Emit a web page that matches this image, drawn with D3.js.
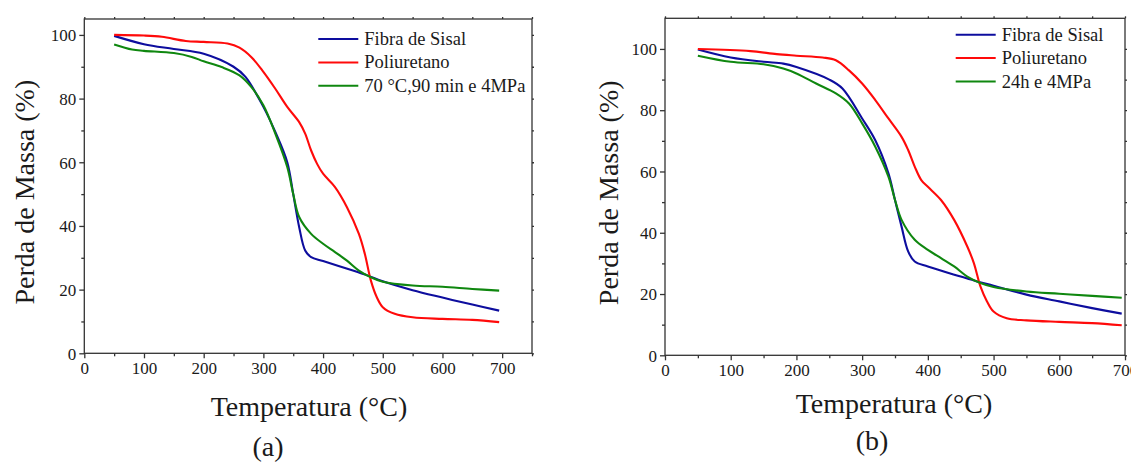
<!DOCTYPE html>
<html>
<head>
<meta charset="utf-8">
<script src="https://cdn.jsdelivr.net/npm/d3@7"></script>
<style>
	body { margin: 0; background: #fff; }
	svg text { font-family: "Liberation Serif", "Times New Roman", serif; fill: #1a1a1a; }
	.axis path, .axis line { stroke: #333; stroke-width: 1.3; }
</style>
</head>
<body>
<svg id="graphic" width="1131" height="462"></svg>
<script>
// ---- data ----
const seriesNames = ['Fibra de Sisal', 'Poliuretano'];
const legendA = seriesNames.concat(['70 °C,90 min e 4MPa']);
const legendB = seriesNames.concat(['24h e 4MPa']);
const colours = ['#0d0d9e', '#ff0a0a', '#0f870f'];

const xTicksA = [0, 100, 200, 300, 400, 500, 600, 700];
const xTicksB = [0, 100, 200, 300, 400, 500, 600, 700];
const yTicks = [0, 20, 40, 60, 80, 100];

// panel (a)
const tFibraA = [50, 100, 150, 200, 250, 270, 300, 320, 340, 350, 360, 370, 380, 400, 450, 475, 500, 550, 600, 650, 695];
const mFibraA = [99.7, 97.1, 95.6, 94.1, 90.0, 86.8, 77.4, 69.5, 60.0, 50.0, 39.6, 32.3, 30.2, 29.0, 26.0, 24.4, 22.6, 19.8, 17.5, 15.3, 13.4];
const tPuA = [50, 100, 130, 170, 200, 240, 260, 280, 300, 320, 340, 360, 370, 380, 390, 400, 420, 440, 460, 470, 480, 490, 500, 520, 550, 600, 650, 695];
const mPuA = [100, 99.8, 99.4, 98.1, 97.8, 97.3, 96.0, 93.0, 88.4, 83.1, 77.4, 72.6, 69.0, 63.7, 59.5, 56.4, 52.2, 45.9, 37.5, 31.2, 22.9, 17.6, 14.5, 12.4, 11.3, 10.8, 10.5, 9.8];
const tTratA = [50, 80, 100, 150, 180, 200, 230, 260, 280, 300, 320, 340, 350, 360, 380, 400, 420, 440, 460, 480, 500, 550, 600, 650, 695];
const mTratA = [97.0, 95.4, 95.0, 94.3, 93.1, 91.7, 89.9, 87.3, 83.6, 77.9, 69.0, 58.5, 50.0, 42.8, 37.5, 34.4, 31.8, 29.1, 26.0, 23.9, 22.5, 21.3, 20.9, 20.2, 19.7];

// panel (b)
const tFibraB = [50, 100, 150, 180, 200, 250, 270, 300, 320, 340, 350, 360, 370, 380, 400, 450, 475, 500, 550, 600, 650, 695];
const mFibraB = [99.8, 97.2, 95.8, 95.2, 94.1, 90.0, 87.1, 77.3, 70.2, 59.4, 50.7, 42.0, 33.9, 30.6, 29.0, 25.7, 24.1, 22.7, 19.8, 17.6, 15.4, 13.6];
const tPuB = [50, 130, 170, 200, 240, 260, 280, 300, 320, 340, 360, 370, 380, 390, 400, 420, 440, 460, 470, 480, 490, 500, 520, 550, 600, 650, 695];
const mPuB = [100, 99.3, 98.3, 97.8, 97.2, 96.3, 93.0, 88.7, 83.3, 77.3, 71.3, 67.0, 61.6, 57.2, 55.0, 50.7, 44.2, 35.5, 30.1, 22.5, 17.6, 14.3, 12.1, 11.4, 10.9, 10.5, 9.8];
const tTratB = [50, 100, 150, 180, 200, 230, 260, 280, 300, 320, 340, 350, 360, 380, 400, 420, 440, 460, 480, 500, 550, 600, 650, 695];
const mTratB = [97.8, 95.8, 95.0, 93.6, 92.0, 88.7, 85.5, 82.2, 75.7, 68.1, 58.3, 50.7, 44.2, 37.7, 34.4, 31.7, 29.0, 25.7, 23.6, 22.3, 20.8, 20.1, 19.4, 18.8];

const svg = d3.select('#graphic');
const serif = '"Liberation Serif", "Times New Roman", serif';

function drawPanel(p) {
	let x = d3.scaleLinear().domain(p.xDomain).range([p.left, p.right]);
	let y = d3.scaleLinear().domain(p.yDomain).range([p.bottom, p.top]);
	let g = svg.append('g');

	const xMinor = d3.range(50, p.xDomain[1] + 1, 100);
	const yMinor = d3.range(10, p.yDomain[1], 20);

	// minor ticks first
	g.append('g').attr('class', 'axis').attr('transform', `translate(0,${p.bottom})`)
		.call(d3.axisBottom(x).tickValues(xMinor).tickSize(3).tickFormat(''))
		.select('.domain').remove();
	g.append('g').attr('class', 'axis').attr('transform', `translate(${p.left},0)`)
		.call(d3.axisLeft(y).tickValues(yMinor).tickSize(3).tickFormat(''))
		.select('.domain').remove();
	g.append('g').attr('class', 'axis').attr('transform', `translate(0,${p.top})`)
		.call(d3.axisTop(x).tickValues(p.xTicks.concat(xMinor)).tickSize(2).tickFormat(''))
		.select('.domain').remove();
	g.append('g').attr('class', 'axis').attr('transform', `translate(${p.right},0)`)
		.call(d3.axisRight(y).tickValues(yTicks.concat(yMinor)).tickSize(2).tickFormat(''))
		.select('.domain').remove();

	// main axes
	let xa = g.append('g').attr('class', 'axis').attr('transform', `translate(0,${p.bottom})`)
		.call(d3.axisBottom(x).tickValues(p.xTicks).tickSize(5).tickPadding(4).tickSizeOuter(0))
		.attr('font-family', serif);
	xa.selectAll('text').style('font-size', '17px');
	xa.select('.domain').remove();
	let ya = g.append('g').attr('class', 'axis').attr('transform', `translate(${p.left},0)`)
		.call(d3.axisLeft(y).tickValues(yTicks).tickSize(5).tickPadding(3).tickSizeOuter(0))
		.attr('font-family', serif);
	ya.selectAll('text').style('font-size', '17px').attr('dy', '0.34em');
	ya.select('.domain').remove();

	// frame
	g.append('rect')
		.attr('x', p.left).attr('y', p.top)
		.attr('width', p.right - p.left).attr('height', p.bottom - p.top)
		.attr('fill', 'none').attr('stroke', '#333').attr('stroke-width', 1.3);

	let line = d3.line()
		.x(d => x(d[0]))
		.y(d => y(d[1]))
		.curve(d3.curveCatmullRom.alpha(0.5));

	p.series.forEach((s, i) => {
		g.append('path')
			.datum(d3.zip(s.t, s.m))
			.attr('d', line)
			.attr('fill', 'none')
			.attr('stroke', colours[i])
			.attr('stroke-width', 2.1);
	});

	// legend
	p.legend.forEach((name, i) => {
		let ly = p.legendY + i * 23.4;
		g.append('line')
			.attr('x1', p.legendX).attr('x2', p.legendX + 40)
			.attr('y1', ly).attr('y2', ly)
			.attr('stroke', colours[i]).attr('stroke-width', 2);
		g.append('text')
			.attr('x', p.legendX + 46).attr('y', ly + 6)
			.style('font-size', '18.5px')
			.text(name);
	});

	// titles
	g.append('text')
		.attr('x', p.xTitleX).attr('y', p.xTitleY)
		.attr('text-anchor', 'middle')
		.style('font-size', '28px')
		.text('Temperatura (°C)');
	g.append('text')
		.attr('transform', `translate(${p.yTitleX},${(p.top + p.bottom) / 2 + 6}) rotate(-90)`)
		.attr('text-anchor', 'middle')
		.attr('dy', '0.35em')
		.style('font-size', '28px')
		.text('Perda de Massa (%)');
	g.append('text')
		.attr('x', p.capX).attr('y', p.capY)
		.attr('text-anchor', 'middle')
		.style('font-size', '28px')
		.text(p.caption);
}

drawPanel({
	left: 84.3, right: 532, top: 19, bottom: 353.3,
	xDomain: [0, 750], yDomain: [0, 105], xTicks: xTicksA,
	series: [{ t: tFibraA, m: mFibraA }, { t: tPuA, m: mPuA }, { t: tTratA, m: mTratA }],
	legend: legendA, legendX: 318.3, legendY: 39,
	xTitleX: 309, xTitleY: 416, yTitleX: 24, capX: 268, capY: 456, caption: '(a)'
});

drawPanel({
	left: 665, right: 1125, top: 18.3, bottom: 355.3,
	xDomain: [0, 700], yDomain: [0, 110], xTicks: xTicksB,
	series: [{ t: tFibraB, m: mFibraB }, { t: tPuB, m: mPuB }, { t: tTratB, m: mTratB }],
	legend: legendB, legendX: 955.7, legendY: 34.7,
	xTitleX: 894, xTitleY: 413, yTitleX: 608, capX: 872, capY: 450, caption: '(b)'
});
</script>
</body>
</html>
